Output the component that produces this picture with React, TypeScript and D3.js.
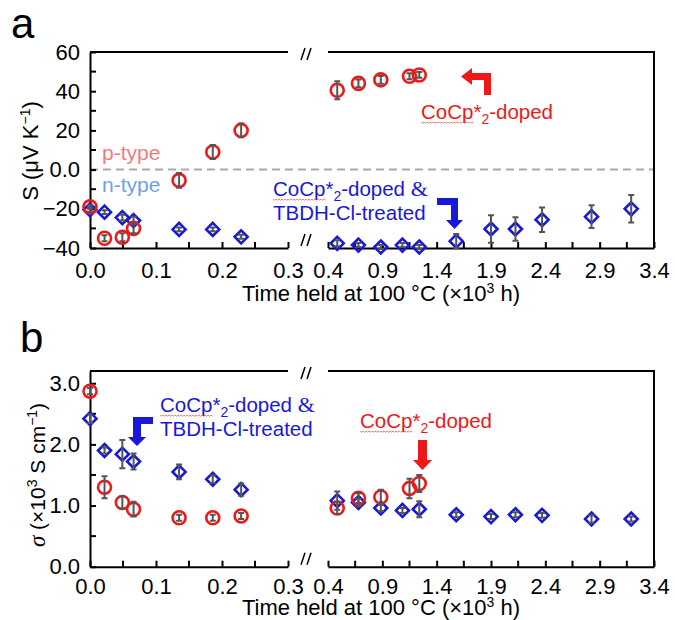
import React, { useEffect, useRef } from "react"
import * as d3 from "d3"

// time held at 100 C (x10^3 h)
const redTime = [0, 0.022, 0.049, 0.066, 0.135, 0.186, 0.229, 0.485, 0.68, 0.886, 1.15, 1.24]
const blueTime = [0, 0.022, 0.049, 0.066, 0.135, 0.186, 0.229, 0.485, 0.68, 0.886, 1.085, 1.24, 1.58, 1.9, 2.125, 2.37, 2.825, 3.19]

// panel a: Seebeck coefficient (uV/K)
const redS = [-19, -35, -34.5, -30, -5.5, 9, 20, 40.5, 44, 45.8, 47.6, 48.3]
const redSErr = [1, 1.5, 2, 2.5, 3.8, 3.6, 3.5, 4.6, 2, 2, 1.5, 1.5]
const blueS = [-20.5, -21.7, -24.5, -26, -30.5, -30.5, -34.3, -37.6, -38.5, -39.5, -38.5, -39.5, -36.5, -30.3, -30.3, -25.6, -24, -20]
const blueSErr = [1, 1, 1.5, 2, 1, 1, 1, 1.5, 1, 1, 1, 1, 3.6, 7, 6, 6.2, 5.8, 7]

// panel b: conductivity (x10^3 S/cm)
const redSigma = [2.87, 1.3, 1.05, 0.94, 0.8, 0.8, 0.83, 0.96, 1.12, 1.14, 1.28, 1.36]
const redSigmaErr = [0.05, 0.18, 0.1, 0.12, 0.05, 0.05, 0.05, 0.1, 0.08, 0.12, 0.16, 0.14]
const blueSigma = [2.42, 1.9, 1.84, 1.72, 1.55, 1.43, 1.26, 1.08, 1.05, 0.96, 0.92, 0.94, 0.85, 0.82, 0.85, 0.84, 0.78, 0.78]
const blueSigmaErr = [0.07, 0.05, 0.23, 0.13, 0.12, 0.06, 0.1, 0.15, 0.06, 0.05, 0.04, 0.13, 0.04, 0.04, 0.04, 0.04, 0.06, 0.04]

// ticks
const xTicksLeft = [0, 0.1, 0.2, 0.3]
const xMinorLeft = [0.05, 0.15, 0.25]
const xTicksRight = [0.4, 0.9, 1.4, 1.9, 2.4, 2.9, 3.4]
const xMinorRight = [0.65, 1.15, 1.65, 2.15, 2.65, 3.15]
const sTicks = [-40, -20, 0, 20, 40, 60]
const sMinor = [-30, -10, 10, 30, 50]
const sigmaTicks = [0, 1, 2, 3]
const sigmaMinor = [0.5, 1.5, 2.5]

const FONT = "Arial, 'Liberation Sans', Helvetica, sans-serif"
const SERIF = "'Times New Roman', 'Liberation Serif', serif"
const RED = "#ee1818"
const BLUE = "#1818dc"
const ERR = "#555555"

function App() {
  const svgRef = useRef<SVGSVGElement>(null)

  useEffect(() => {
    const svg = d3.select(svgRef.current)
    svg.selectAll("*").remove()

    const xL = d3.scaleLinear().domain([0, 0.3]).range([90, 288])
    const xR = d3.scaleLinear().domain([0.4, 3.4]).range([328, 654])
    const xPos = (t: number) => (t <= 0.3 ? xL(t) : xR(t))

    const fmtS = (d: number) => (d === 0 ? "0.0" : d < 0 ? "\u2212" + Math.abs(d) : String(d))
    const fmtSigma = d3.format(".1f")

    const panels = [
      {
        label: "a", labelX: 11, labelY: 38, top: 52, bottom: 248, domain: [-40, 60],
        ticks: sTicks, minor: sMinor, fmt: fmtS, titleOff: 53, pad: 14,
        red: redS, redErr: redSErr, blue: blueS, blueErr: blueSErr, zeroLine: true,
      },
      {
        label: "b", labelX: 20, labelY: 352, top: 371, bottom: 566.7, domain: [0, 3.2],
        ticks: sigmaTicks, minor: sigmaMinor, fmt: fmtSigma, titleOff: 48.5, pad: 12,
        red: redSigma, redErr: redSigmaErr, blue: blueSigma, blueErr: blueSigmaErr, zeroLine: false,
      },
    ]

    panels.forEach((p) => {
      const y = d3.scaleLinear().domain(p.domain).range([p.bottom, p.top])
      const g = svg.append("g")

      // panel letter
      g.append("text").attr("x", p.labelX).attr("y", p.labelY)
        .attr("font-family", FONT).attr("font-size", 42).text(p.label)

      if (p.zeroLine) {
        g.append("line").attr("x1", 90).attr("x2", 654).attr("y1", y(0)).attr("y2", y(0))
          .attr("stroke", "#aaaaaa").attr("stroke-width", 2).attr("stroke-dasharray", "8,5")
      }

      // y axis
      const yAxis = g.append("g").attr("transform", "translate(90,0)")
        .call(d3.axisLeft(y).tickValues(p.ticks).tickFormat(p.fmt as any).tickSize(-6).tickSizeOuter(0).tickPadding(10))
      p.minor.forEach((m) => {
        g.append("line").attr("x1", 90).attr("x2", 96).attr("y1", y(m)).attr("y2", y(m))
          .attr("stroke", "#000").attr("stroke-width", 2)
      })

      // x axes (two segments around the break)
      const xa1 = g.append("g").attr("transform", `translate(0,${p.bottom})`)
        .call(d3.axisBottom(xL).tickValues(xTicksLeft).tickFormat(d3.format(".1f") as any).tickSize(-6).tickSizeOuter(0).tickPadding(p.pad))
      const xa2 = g.append("g").attr("transform", `translate(0,${p.bottom})`)
        .call(d3.axisBottom(xR).tickValues(xTicksRight).tickFormat(d3.format(".1f") as any).tickSize(-6).tickSizeOuter(0).tickPadding(p.pad))
      xMinorLeft.forEach((m) => {
        g.append("line").attr("x1", xL(m)).attr("x2", xL(m)).attr("y1", p.bottom).attr("y2", p.bottom - 6)
          .attr("stroke", "#000").attr("stroke-width", 2)
      })
      xMinorRight.forEach((m) => {
        g.append("line").attr("x1", xR(m)).attr("x2", xR(m)).attr("y1", p.bottom).attr("y2", p.bottom - 6)
          .attr("stroke", "#000").attr("stroke-width", 2)
      })

      ;[yAxis, xa1, xa2].forEach((a) => {
        a.selectAll("path.domain").attr("stroke", "#000").attr("stroke-width", 2)
        a.selectAll(".tick line").attr("stroke", "#000").attr("stroke-width", 2)
        a.selectAll("text").attr("font-family", FONT).attr("font-size", 22).attr("fill", "#000")
      })

      // top border with break, right border
      g.append("path")
        .attr("d", `M90,${p.top}H288M328,${p.top}H654V${p.bottom}`)
        .attr("fill", "none").attr("stroke", "#000").attr("stroke-width", 2)

      // break marks
      ;[p.top + 2, p.bottom - 8].forEach((cy) => {
        ;[301, 307].forEach((bx) => {
          g.append("line").attr("x1", bx).attr("y1", cy + 6).attr("x2", bx + 4).attr("y2", cy - 6)
            .attr("stroke", "#000").attr("stroke-width", 1.5)
        })
      })

      // markers
      const diamond = "M0,-6.5L6.5,0L0,6.5L-6.5,0Z"
      g.selectAll(".blue").data(blueTime).enter().append("path")
        .attr("d", diamond)
        .attr("transform", (t, i) => `translate(${xPos(t)},${y(p.blue[i])})`)
        .attr("fill", "none").attr("stroke", BLUE).attr("stroke-width", 2.6)
      g.selectAll(".red").data(redTime).enter().append("circle")
        .attr("cx", (t) => xPos(t)).attr("cy", (t, i) => y(p.red[i])).attr("r", 6.5)
        .attr("fill", "none").attr("stroke", RED).attr("stroke-width", 2.6)

      // error bars
      const errBars = (times: number[], vals: number[], errs: number[]) => {
        times.forEach((t, i) => {
          const cx = xPos(t)
          const y1 = y(vals[i] - errs[i])
          const y2 = y(vals[i] + errs[i])
          g.append("path")
            .attr("d", `M${cx},${y1}V${y2}M${cx - 3},${y1}H${cx + 3}M${cx - 3},${y2}H${cx + 3}`)
            .attr("fill", "none").attr("stroke", ERR).attr("stroke-width", 2)
        })
      }
      errBars(redTime, p.red, p.redErr)
      errBars(blueTime, p.blue, p.blueErr)

      // x axis title
      const xt = g.append("text").attr("x", 381).attr("y", p.bottom + p.titleOff)
        .attr("text-anchor", "middle").attr("font-family", FONT).attr("font-size", 22)
      xt.append("tspan").text("Time held at 100 \u00b0C (\u00d710")
      xt.append("tspan").attr("dy", -8).attr("font-size", 14).text("3")
      xt.append("tspan").attr("dy", 8).text(" h)")
    })

    // y axis titles
    const yt1 = svg.append("text").attr("transform", "translate(38,151) rotate(-90)")
      .attr("text-anchor", "middle").attr("font-family", FONT).attr("font-size", 22)
    yt1.append("tspan").text("S (\u03bcV K")
    yt1.append("tspan").attr("dy", -8).attr("font-size", 14).text("\u22121")
    yt1.append("tspan").attr("dy", 8).text(")")

    const yt2 = svg.append("text").attr("transform", "translate(45,475) rotate(-90)")
      .attr("text-anchor", "middle").attr("font-family", FONT).attr("font-size", 21)
    yt2.append("tspan").attr("font-family", SERIF).attr("font-style", "italic").attr("font-size", 23).text("\u03c3")
    yt2.append("tspan").text(" (\u00d710")
    yt2.append("tspan").attr("dy", -8).attr("font-size", 14).text("3")
    yt2.append("tspan").attr("dy", 8).text(" S cm")
    yt2.append("tspan").attr("dy", -8).attr("font-size", 14).text("\u22121")
    yt2.append("tspan").attr("dy", 8).text(")")

    // p-type / n-type
    svg.append("text").attr("x", 102).attr("y", 160).attr("font-family", FONT).attr("font-size", 21)
      .attr("fill", "#f27b82").text("p-type")
    svg.append("text").attr("x", 102).attr("y", 192).attr("font-family", FONT).attr("font-size", 21)
      .attr("fill", "#6f9ff0").text("n-type")

    // annotations
    const squiggle = (x0: number, yb: number, w: number) => {
      let d = `M${x0},${yb}`
      for (let k = 1; k * 1.5 <= w; k++) d += `L${x0 + k * 1.5},${yb + (k % 2 ? 1.2 : 0)}`
      svg.append("path").attr("d", d).attr("fill", "none").attr("stroke", "#e06060").attr("stroke-width", 0.8)
    }
    const cocp = (x: number, yb: number, color: string, amp: boolean) => {
      const t = svg.append("text").attr("x", x).attr("y", yb).attr("font-family", FONT)
        .attr("font-size", 20.5).attr("fill", color)
      t.append("tspan").text("CoCp*")
      t.append("tspan").attr("dy", 5).attr("font-size", 14).text("2")
      t.append("tspan").attr("dy", -5).text("-doped")
      if (amp) {
        t.append("tspan").text(" ")
        t.append("tspan").attr("font-family", SERIF).attr("font-size", 22).text("&")
      }
      squiggle(x, yb + 3, 53)
    }
    const treated = (x: number, yb: number) => {
      svg.append("text").attr("x", x).attr("y", yb).attr("font-family", FONT)
        .attr("font-size", 20.5).attr("fill", BLUE).text("TBDH-Cl-treated")
    }

    cocp(421, 119, RED, false)
    cocp(273, 196, BLUE, true)
    treated(273, 220)
    cocp(160, 412, BLUE, true)
    treated(160, 436)
    cocp(360, 428, RED, false)

    // arrows
    svg.append("path").attr("d", "M491,95L491,73L472,73L472,68L461,76.5L472,85L472,80L484,80L484,95Z").attr("fill", RED)
    svg.append("path").attr("d", "M437,198L458,198L458,220L463,220L454.5,229L446,220L451,220L451,205L437,205Z").attr("fill", BLUE)
    svg.append("path").attr("d", "M153,417L133,417L133,437L128,437L137,446L146,437L141,437L141,424L153,424Z").attr("fill", BLUE)
    svg.append("path").attr("d", "M418,440L427,440L427,460L432,460L422.5,470L413,460L418,460Z").attr("fill", RED)
  }, [])

  return (
    <svg ref={svgRef} width={675} height={620}
      style={{ position: "absolute", left: 0, top: 0, background: "#fff" }} />
  )
}

export default App
